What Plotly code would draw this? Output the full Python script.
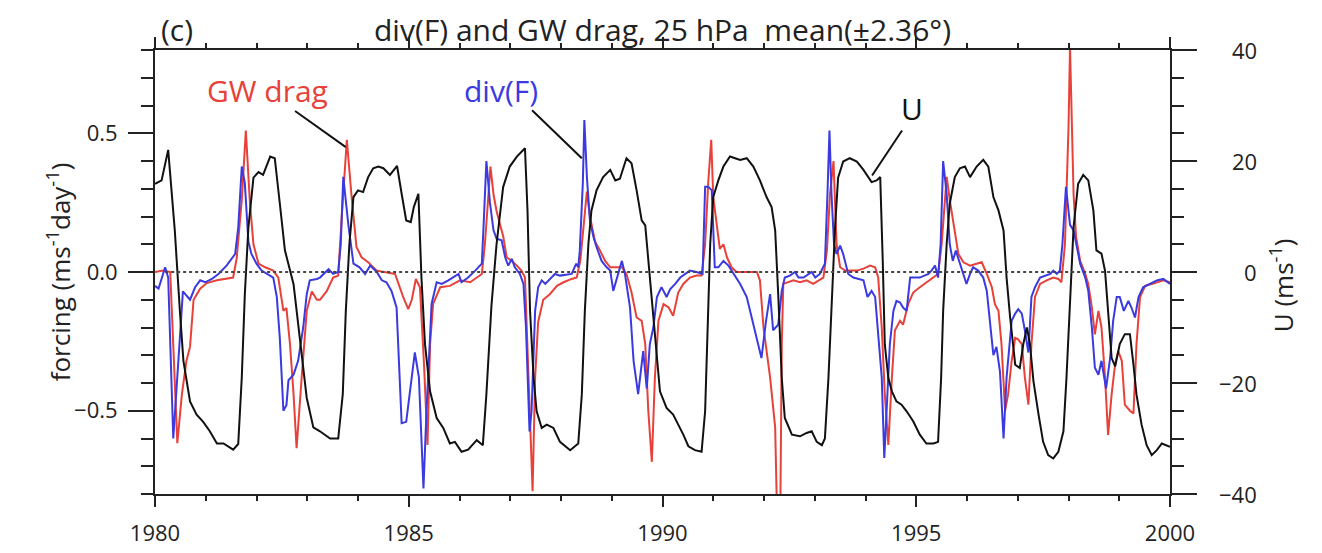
import plotly.graph_objects as go

# zonal wind U (m/s), right axis
u_year = [1980.00, 1980.13, 1980.26, 1980.39, 1980.49, 1980.56, 1980.69, 1980.82, 1980.95, 1981.08,
          1981.22, 1981.35, 1981.54, 1981.64, 1981.71, 1981.77, 1981.84, 1981.94, 1982.04, 1982.13,
          1982.27, 1982.36, 1982.46, 1982.56, 1982.73, 1982.86, 1982.99, 1983.12, 1983.25, 1983.45,
          1983.61, 1983.70, 1983.76, 1983.83, 1983.91, 1984.00, 1984.10, 1984.20, 1984.30, 1984.40,
          1984.50, 1984.63, 1984.77, 1984.86, 1984.95, 1985.04, 1985.10, 1985.19, 1985.25, 1985.32,
          1985.42, 1985.55, 1985.68, 1985.81, 1985.91, 1986.04, 1986.17, 1986.34, 1986.46, 1986.53,
          1986.63, 1986.73, 1986.86, 1986.99, 1987.13, 1987.29, 1987.34, 1987.39, 1987.46, 1987.52,
          1987.62, 1987.72, 1987.85, 1987.98, 1988.18, 1988.34, 1988.41, 1988.47, 1988.54, 1988.60,
          1988.70, 1988.83, 1988.97, 1989.07, 1989.16, 1989.29, 1989.39, 1989.49, 1989.59, 1989.66,
          1989.75, 1989.85, 1989.95, 1990.08, 1990.21, 1990.31, 1990.41, 1990.51, 1990.64, 1990.77,
          1990.84, 1990.90, 1990.94, 1991.00, 1991.10, 1991.20, 1991.33, 1991.43, 1991.53, 1991.66,
          1991.79, 1991.92, 1992.05, 1992.15, 1992.22, 1992.28, 1992.35, 1992.41, 1992.55, 1992.71,
          1992.84, 1992.94, 1993.04, 1993.14, 1993.20, 1993.27, 1993.33, 1993.40, 1993.46, 1993.56,
          1993.69, 1993.83, 1993.96, 1994.06, 1994.12, 1994.22, 1994.29, 1994.34, 1994.38, 1994.45,
          1994.52, 1994.61, 1994.71, 1994.81, 1994.94, 1995.07, 1995.20, 1995.34, 1995.43, 1995.49,
          1995.53, 1995.60, 1995.66, 1995.76, 1995.86, 1995.96, 1996.06, 1996.19, 1996.32, 1996.42,
          1996.52, 1996.62, 1996.72, 1996.78, 1996.85, 1996.95, 1997.04, 1997.11, 1997.18, 1997.24,
          1997.31, 1997.41, 1997.50, 1997.60, 1997.70, 1997.80, 1997.90, 1997.96, 1998.03, 1998.10,
          1998.19, 1998.29, 1998.39, 1998.49, 1998.55, 1998.65, 1998.72, 1998.78, 1998.85, 1998.92,
          1999.01, 1999.11, 1999.21, 1999.28, 1999.34, 1999.44, 1999.54, 1999.64, 1999.74, 1999.84,
          1999.93, 2000.00]
u_val = [15.9, 16.5, 22.0, 7.5, -7.0, -16.0, -23.3, -25.7, -27.0, -28.7,
         -30.9, -30.9, -32.0, -31.0, -19.0, -4.0, 8.0, 17.0, 18.0, 17.5,
         20.8, 20.5, 12.3, 3.9, -2.2, -13.0, -22.7, -28.0, -28.7, -30.0,
         -30.0, -22.0, -7.0, 5.0, 13.5, 14.7, 14.4, 17.1, 18.7, 19.0,
         18.7, 17.5, 19.1, 14.1, 9.3, 9.0, 11.7, 14.1, -1.0, -13.0,
         -21.5, -26.3, -28.1, -30.9, -30.6, -32.4, -32.0, -30.3, -31.2, -22.0,
         -6.0, 5.0, 15.3, 19.0, 20.8, 22.3, 11.1, -7.0, -19.1, -25.1,
         -28.1, -27.5, -28.1, -30.6, -32.1, -30.9, -22.1, -7.0, 5.1, 11.1,
         14.7, 17.1, 18.4, 16.5, 16.8, 20.5, 19.6, 14.7, 9.3, 8.4,
         -1.0, -11.2, -21.5, -24.5, -25.7, -27.5, -29.3, -31.4, -32.1, -32.4,
         -25.1, -7.0, 5.1, 13.5, 16.5, 19.0, 20.8, 20.5, 20.2, 20.5,
         19.0, 16.5, 13.5, 11.7, 7.5, -4.0, -19.1, -26.3, -29.3, -29.6,
         -29.0, -28.7, -30.6, -31.2, -30.0, -19.1, -5.8, 8.0, 17.0, 19.9,
         20.5, 19.9, 18.4, 17.1, 16.2, 16.5, 17.1, 2.0, -13.0, -19.1,
         -21.5, -23.3, -23.9, -25.1, -26.9, -29.3, -30.9, -30.9, -30.6, -19.1,
         -7.0, 5.1, 12.3, 17.1, 18.7, 19.0, 17.1, 19.0, 20.2, 19.0,
         13.5, 11.1, 7.5, -1.0, -8.2, -16.7, -17.3, -13.0, -10.0, -13.0,
         -19.7, -25.7, -30.6, -33.0, -33.6, -32.4, -28.7, -19.1, -4.0, 8.1,
         15.9, 17.5, 16.5, 11.1, 3.9, 3.3, 0.2, -7.0, -15.5, -17.0,
         -13.0, -11.2, -11.2, -16.7, -22.1, -27.5, -31.2, -33.0, -32.1, -30.9,
         -31.2, -31.5]

# GW drag (m/s/day), left axis
gw_year = [1980.00, 1980.16, 1980.30, 1980.36, 1980.44, 1980.53, 1980.62, 1980.69, 1980.76, 1980.89,
           1981.02, 1981.22, 1981.41, 1981.54, 1981.61, 1981.71, 1981.79, 1981.87, 1981.94, 1982.04,
           1982.17, 1982.33, 1982.43, 1982.53, 1982.59, 1982.66, 1982.73, 1982.79, 1982.89, 1982.99,
           1983.09, 1983.19, 1983.25, 1983.38, 1983.51, 1983.61, 1983.68, 1983.78, 1983.87, 1983.97,
           1984.07, 1984.20, 1984.37, 1984.56, 1984.73, 1984.89, 1984.99, 1985.06, 1985.14, 1985.22,
           1985.30, 1985.37, 1985.42, 1985.48, 1985.62, 1985.81, 1986.01, 1986.21, 1986.34, 1986.44,
           1986.50, 1986.61, 1986.67, 1986.73, 1986.80, 1986.86, 1986.93, 1987.03, 1987.13, 1987.22,
           1987.29, 1987.36, 1987.44, 1987.49, 1987.55, 1987.65, 1987.78, 1987.92, 1988.05, 1988.21,
           1988.31, 1988.38, 1988.44, 1988.51, 1988.57, 1988.67, 1988.77, 1988.87, 1988.97, 1989.20,
           1989.29, 1989.39, 1989.49, 1989.59, 1989.66, 1989.72, 1989.79, 1989.85, 1989.92, 1990.02,
           1990.12, 1990.21, 1990.31, 1990.41, 1990.54, 1990.67, 1990.77, 1990.84, 1990.90, 1990.96,
           1991.00, 1991.07, 1991.13, 1991.20, 1991.27, 1991.36, 1991.46, 1991.86, 1991.92, 1991.99,
           1992.12, 1992.22, 1992.26, 1992.32, 1992.35, 1992.38, 1992.48, 1992.58, 1992.71, 1992.84,
           1992.97, 1993.10, 1993.17, 1993.24, 1993.30, 1993.37, 1993.43, 1993.50, 1993.60, 1993.83,
           1993.96, 1994.09, 1994.19, 1994.25, 1994.32, 1994.38, 1994.45, 1994.52, 1994.58, 1994.68,
           1994.74, 1994.84, 1994.94, 1995.07, 1995.20, 1995.34, 1995.43, 1995.50, 1995.60, 1995.66,
           1995.76, 1995.83, 1995.93, 1996.06, 1996.19, 1996.29, 1996.39, 1996.49, 1996.55, 1996.62,
           1996.68, 1996.75, 1996.81, 1996.88, 1996.95, 1997.01, 1997.08, 1997.14, 1997.21, 1997.27,
           1997.34, 1997.44, 1997.57, 1997.70, 1997.80, 1997.86, 1997.93, 1997.96, 1998.00, 1998.03,
           1998.06, 1998.10, 1998.15, 1998.23, 1998.33, 1998.39, 1998.46, 1998.52, 1998.59, 1998.65,
           1998.72, 1998.78, 1998.85, 1998.92, 1998.98, 1999.05, 1999.11, 1999.21, 1999.28, 1999.34,
           1999.41, 1999.51, 1999.64, 1999.74, 1999.87, 2000.00]
gw_val = [0.0, 0.005, 0.0, -0.26, -0.617, -0.44, -0.32, -0.27, -0.10, -0.06,
          -0.04, -0.03, -0.025, -0.02, 0.05, 0.26, 0.51, 0.25, 0.10, 0.03,
          0.017, 0.005, -0.02, -0.14, -0.13, -0.26, -0.44, -0.635, -0.38, -0.14,
          -0.07, -0.10, -0.10, -0.07, -0.02, -0.013, 0.2, 0.476, 0.28, 0.09,
          0.053, 0.035, 0.005, 0.0, -0.007, -0.09, -0.134, -0.10, -0.025, -0.055,
          -0.33, -0.623, -0.26, -0.115, -0.055, -0.05, -0.03, -0.037, -0.02, -0.007,
          0.1, 0.38, 0.28, 0.22, 0.17, 0.13, 0.053, 0.04, 0.023, 0.005,
          -0.02, -0.38, -0.79, -0.38, -0.18, -0.10, -0.08, -0.05, -0.037, -0.025,
          -0.02, 0.04, 0.17, 0.29, 0.2, 0.11, 0.077, 0.04, 0.017, 0.017,
          -0.007, -0.074, -0.164, -0.176, -0.26, -0.50, -0.684, -0.38, -0.176, -0.116,
          -0.128, -0.158, -0.074, -0.043, -0.02, -0.013, -0.013, 0.1, 0.32, 0.476,
          0.27, 0.17, 0.083, 0.1, 0.053, 0.017, 0.0, 0.0, -0.03, -0.2,
          -0.38, -0.56, -0.9, -0.9, -0.26, -0.043, -0.037, -0.03, -0.037, -0.03,
          -0.043, -0.03, -0.02, 0.077, 0.28, 0.40, 0.1, 0.017, 0.005, 0.005,
          0.012, 0.023, 0.017, -0.02, -0.2, -0.44, -0.623, -0.38, -0.21, -0.176,
          -0.19, -0.116, -0.074, -0.055, -0.037, -0.02, -0.007, 0.1, 0.343, 0.26,
          0.15, 0.065, 0.035, 0.023, 0.03, 0.035, -0.007, -0.055, -0.116, -0.14,
          -0.26, -0.5, -0.44, -0.32, -0.237, -0.243, -0.26, -0.38, -0.478, -0.26,
          -0.09, -0.043, -0.03, -0.02, -0.025, -0.037, 0.1, 0.28, 0.52, 0.81,
          0.58, 0.28, 0.126, 0.04, -0.007, -0.043, -0.128, -0.225, -0.14, -0.2,
          -0.38, -0.587, -0.44, -0.33, -0.285, -0.32, -0.478, -0.5, -0.51, -0.26,
          -0.09, -0.05, -0.043, -0.037, -0.03, -0.037]

# div(F) (m/s/day), left axis
df_year = [1980.00, 1980.07, 1980.20, 1980.26, 1980.36, 1980.46, 1980.55, 1980.69, 1980.79, 1980.89,
           1980.99, 1981.12, 1981.25, 1981.41, 1981.58, 1981.64, 1981.71, 1981.77, 1981.84, 1981.90,
           1982.00, 1982.10, 1982.20, 1982.33, 1982.40, 1982.46, 1982.53, 1982.59, 1982.63, 1982.73,
           1982.82, 1982.92, 1982.99, 1983.05, 1983.19, 1983.25, 1983.42, 1983.51, 1983.61, 1983.66,
           1983.71, 1983.81, 1983.91, 1984.03, 1984.14, 1984.24, 1984.37, 1984.47, 1984.56, 1984.66,
           1984.76, 1984.86, 1984.95, 1985.02, 1985.12, 1985.20, 1985.29, 1985.35, 1985.45, 1985.55,
           1985.65, 1985.78, 1985.88, 1985.98, 1986.04, 1986.17, 1986.31, 1986.44, 1986.48, 1986.53,
           1986.60, 1986.67, 1986.73, 1986.83, 1986.90, 1986.96, 1987.03, 1987.09, 1987.19, 1987.26,
           1987.31, 1987.38, 1987.42, 1987.49, 1987.55, 1987.62, 1987.69, 1987.78, 1987.88, 1987.98,
           1988.21, 1988.30, 1988.34, 1988.37, 1988.43, 1988.46, 1988.51, 1988.57, 1988.64, 1988.70,
           1988.80, 1988.90, 1988.97, 1989.03, 1989.10, 1989.20, 1989.26, 1989.36, 1989.43, 1989.52,
           1989.62, 1989.69, 1989.75, 1989.82, 1989.89, 1989.98, 1990.02, 1990.08, 1990.15, 1990.25,
           1990.35, 1990.44, 1990.54, 1990.67, 1990.79, 1990.84, 1990.90, 1990.97, 1991.03, 1991.10,
           1991.20, 1991.30, 1991.40, 1991.53, 1991.66, 1991.79, 1991.89, 1991.95, 1992.04, 1992.12,
           1992.18, 1992.28, 1992.35, 1992.41, 1992.51, 1992.61, 1992.68, 1992.78, 1992.94, 1993.01,
           1993.10, 1993.20, 1993.25, 1993.29, 1993.33, 1993.38, 1993.43, 1993.50, 1993.56, 1993.66,
           1993.76, 1993.86, 1993.96, 1994.04, 1994.12, 1994.19, 1994.25, 1994.32, 1994.37, 1994.43,
           1994.48, 1994.55, 1994.61, 1994.68, 1994.74, 1994.81, 1994.88, 1995.07, 1995.24, 1995.30,
           1995.37, 1995.43, 1995.48, 1995.53, 1995.60, 1995.66, 1995.72, 1995.78, 1995.86, 1995.93,
           1995.99, 1996.06, 1996.12, 1996.22, 1996.32, 1996.39, 1996.45, 1996.52, 1996.58, 1996.65,
           1996.72, 1996.78, 1996.88, 1996.95, 1997.01, 1997.08, 1997.14, 1997.21, 1997.27, 1997.34,
           1997.44, 1997.54, 1997.64, 1997.70, 1997.77, 1997.83, 1997.88, 1997.95, 1998.03, 1998.10,
           1998.16, 1998.23, 1998.33, 1998.39, 1998.46, 1998.52, 1998.59, 1998.65, 1998.74, 1998.82,
           1998.88, 1998.95, 1999.01, 1999.09, 1999.18, 1999.24, 1999.31, 1999.38, 1999.47, 1999.61,
           1999.74, 1999.87, 2000.00]
df_val = [-0.05, -0.06, 0.017, -0.02, -0.6, -0.32, -0.07, -0.10, -0.055, -0.03,
          -0.037, -0.025, -0.007, 0.023, 0.065, 0.16, 0.38, 0.32, 0.11, 0.065,
          0.03, 0.005, -0.007, -0.02, -0.09, -0.24, -0.50, -0.48, -0.39, -0.37,
          -0.32, -0.20, -0.08, -0.03, -0.025, -0.02, 0.01, -0.007, 0.0, 0.1,
          0.343, 0.17, 0.03, 0.017, -0.007, 0.023, 0.0, -0.03, -0.037, -0.068,
          -0.128, -0.545, -0.54, -0.43, -0.29, -0.38, -0.78, -0.50, -0.115, -0.037,
          -0.043, -0.03, -0.02, -0.007, -0.037, -0.02, 0.005, 0.03, 0.19, 0.40,
          0.25, 0.15, 0.12, 0.114, 0.053, 0.023, 0.047, 0.017, -0.007, -0.043,
          -0.2, -0.575, -0.50, -0.14, -0.055, -0.03, -0.043, -0.025, -0.007, -0.013,
          -0.007, 0.03, 0.017, 0.077, 0.32, 0.548, 0.343, 0.186, 0.126, 0.09,
          0.04, 0.017, 0.005, -0.068, -0.02, 0.04, -0.007, -0.128, -0.32, -0.44,
          -0.285, -0.42, -0.26, -0.2, -0.09, -0.055, -0.068, -0.09, -0.062, -0.043,
          -0.02, -0.007, 0.005, 0.0, -0.007, 0.307, 0.307, 0.295, 0.017, 0.017,
          0.04, 0.023, -0.007, -0.043, -0.09, -0.19, -0.26, -0.31, -0.176, -0.08,
          -0.21, -0.19, -0.068, -0.02, -0.013, 0.0, -0.02, -0.02, 0.0, -0.02,
          -0.007, 0.03, 0.28, 0.51, 0.28, 0.1, 0.065, 0.095, 0.065, -0.007,
          -0.02, -0.025, -0.03, -0.09, -0.068, -0.09, -0.225, -0.38, -0.67, -0.44,
          -0.26, -0.14, -0.104, -0.11, -0.128, -0.14, -0.02, -0.02, -0.007, 0.005,
          0.023, -0.02, 0.1, 0.40, 0.28, 0.1, 0.04, 0.077, 0.03, -0.007,
          -0.043, -0.007, 0.017, 0.005, -0.02, -0.068, -0.176, -0.30, -0.27, -0.36,
          -0.6, -0.38, -0.176, -0.15, -0.134, -0.15, -0.21, -0.29, -0.09, -0.055,
          -0.02, -0.013, -0.007, 0.005, -0.007, 0.005, 0.1, 0.307, 0.17, 0.15,
          0.1, 0.03, -0.02, -0.068, -0.2, -0.345, -0.37, -0.32, -0.42, -0.31,
          -0.176, -0.09, -0.09, -0.14, -0.104, -0.128, -0.164, -0.09, -0.055, -0.043,
          -0.03, -0.025, -0.043]

# tick labels
x_ticks = [1980, 1985, 1990, 1995, 2000]
f_ticks = [-0.5, 0.0, 0.5]
f_ticktext = ["−0.5", "0.0", "0.5"]
u_ticks = [-40, -20, 0, 20, 40]
u_ticktext = ["−40", "−20", "0", "20", "40"]

RED = "#e8413a"
BLUE = "#3a3ae0"
INK = "#222222"
FONT = "Open Sans"

fig = go.Figure()
fig.add_trace(go.Scatter(x=u_year, y=u_val, yaxis="y2", mode="lines",
                         line=dict(color="#111111", width=2), name="U"))
fig.add_trace(go.Scatter(x=gw_year, y=gw_val, mode="lines",
                         line=dict(color=RED, width=2), name="GW drag"))
fig.add_trace(go.Scatter(x=df_year, y=df_val, mode="lines",
                         line=dict(color=BLUE, width=2), name="div(F)"))

# dotted zero line
fig.add_shape(type="line", xref="paper", yref="y", x0=0.01, x1=0.99, y0=0, y1=0,
              line=dict(color="#444444", width=2, dash="dot"))

# leader lines from labels to curves
fig.add_shape(type="line", xref="x", yref="y", x0=1982.76, y0=0.58, x1=1983.76, y1=0.45,
              line=dict(color="#111111", width=2))
fig.add_shape(type="line", xref="x", yref="y", x0=1987.43, y0=0.583, x1=1988.41, y1=0.41,
              line=dict(color="#111111", width=2))
fig.add_shape(type="line", xref="x", yref="y", x0=1994.72, y0=0.51, x1=1994.13, y1=0.348,
              line=dict(color="#111111", width=2))

fig.add_annotation(x=1982.21, y=0.655, xref="x", yref="y", text="GW drag", showarrow=False,
                   font=dict(family=FONT, size=30, color=RED))
fig.add_annotation(x=1986.82, y=0.655, xref="x", yref="y", text="div(F)", showarrow=False,
                   font=dict(family=FONT, size=30, color=BLUE))
fig.add_annotation(x=1994.92, y=0.59, xref="x", yref="y", text="U", showarrow=False,
                   font=dict(family=FONT, size=30, color="#111111"))

# title and panel letter (kept inside the page)
fig.add_annotation(x=0.5, y=1.0946, xref="paper", yref="paper", yanchor="top", borderpad=0,
                   text="div(F) and GW drag, 25 hPa  mean(±2.36°)", showarrow=False,
                   font=dict(family=FONT, size=30, color=INK))
fig.add_annotation(x=0.005, y=1.0946, xref="paper", yref="paper", xanchor="left", yanchor="top",
                   borderpad=0, text="(c)", showarrow=False,
                   font=dict(family=FONT, size=30, color=INK))

# axis titles
fig.add_annotation(x=-0.115, y=0.5, xref="paper", yref="paper", textangle=-90,
                   text="forcing (ms<sup>-1</sup>day<sup>-1</sup>)", showarrow=False,
                   font=dict(family=FONT, size=26, color=INK))
fig.add_annotation(x=1.131, y=0.47, xref="paper", yref="paper", textangle=-90,
                   text="U (ms<sup>-1</sup>)", showarrow=False,
                   font=dict(family=FONT, size=26, color=INK))

# right-axis tick labels, right-aligned like the original
for v, t in zip(u_ticks, u_ticktext):
    fig.add_annotation(x=1.0877, y=v, xref="paper", yref="y2", xanchor="right", text=t,
                       showarrow=False, font=dict(family=FONT, size=22, color=INK))

axis_common = dict(showline=True, linecolor=INK, linewidth=2, showgrid=False, automargin=False,
                   zeroline=False, ticks="outside", tickcolor=INK, tickwidth=2,
                   tickfont=dict(family=FONT, size=22, color=INK))

fig.update_layout(
    width=1314, height=545,
    margin=dict(l=147, r=152, t=42, b=59),
    paper_bgcolor="white", plot_bgcolor="white",
    showlegend=False,
    xaxis=dict(range=[1980, 2000], tickvals=x_ticks, ticklen=11,
               mirror="ticks", ticklabelstandoff=8,
               minor=dict(dtick=1, tick0=1980, ticklen=5, ticks="outside", tickcolor=INK,
                          tickwidth=2),
               **axis_common),
    yaxis=dict(range=[-0.8, 0.8], tickvals=f_ticks, ticktext=f_ticktext,
               ticklen=25, ticklabelstandoff=6,
               minor=dict(dtick=0.1, tick0=0, ticklen=12, ticks="outside", tickcolor=INK,
                          tickwidth=2),
               **axis_common),
    yaxis2=dict(range=[-40, 40], overlaying="y", side="right",
                tickvals=u_ticks, showticklabels=False, ticklen=25,
                minor=dict(dtick=5, tick0=0, ticklen=12, ticks="outside", tickcolor=INK,
                           tickwidth=2),
                **axis_common),
)

fig.write_html("out.html")
